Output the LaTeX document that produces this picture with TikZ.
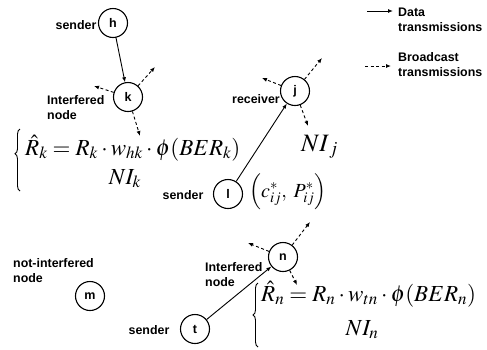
\documentclass[tikz,border=0pt]{standalone}
\usepackage{mathptmx}
\usepackage[no-math]{fontspec}
\newfontfamily\labfont{Liberation Sans}
\usetikzlibrary{arrows.meta,decorations.pathreplacing}
\tikzset{
  nd/.style={circle, draw, line width=1.1pt, minimum size=29pt, inner sep=0pt,
    font=\labfont\bfseries\fontsize{12.5}{14}\selectfont},
  lbl/.style={font=\labfont\bfseries\fontsize{12.4}{15}\selectfont, inner sep=0pt, align=left},
  data/.style={line width=0.9pt, -{Latex[length=5pt,width=4pt]}},
  bcast/.style={line width=0.9pt, dash pattern=on 3pt off 2.5pt, -{Latex[length=5pt,width=4pt]}},
  eq/.style={font=\fontsize{23}{28}\selectfont, inner sep=0pt},
  bigeq/.style={font=\fontsize{25}{30}\selectfont, inner sep=0pt},
  brc/.style={line width=0.9pt, decorate, decoration={brace, amplitude=5pt}},
}
\begin{document}
\begin{tikzpicture}[x=1pt,y=-1pt]
\useasboundingbox (0,0) rectangle (487,349);
% nodes
\node[nd] (h) at (113,23) {h};
\node[nd] (k) at (128,97) {k};
\node[nd] (j) at (295,91) {j};
\node[nd] (l) at (228,194) {l};
\node[nd] (m) at (90,296) {m};
\node[nd] (n) at (283,257) {n};
\node[nd] (t) at (195,329) {t};
% labels
\node[lbl] (sh) at (76,25) {sender};
\node[lbl, anchor=west] (ik) at (47,108) {Interfered\\node};
\node[lbl, anchor=east] (rj) at (280,99) {receiver};
\node[lbl] (sl) at (183,195) {sender};
\node[lbl, anchor=west] (ni) at (13,271) {not-interfered\\node};
\node[lbl] (st) at (149,330) {sender};
\node[lbl, anchor=west] (in) at (205,274.5) {Interfered\\node};
% data transmissions
\draw[data] (h) -- (k);
\draw[data] (l) -- (j);
\draw[data] (t) -- (n);
% broadcast endpoints
\coordinate (k1) at (94,86);
\coordinate (k2) at (155,67);
\coordinate (k3) at (140,136);
\coordinate (j1) at (262,78);
\coordinate (j2) at (322,58);
\coordinate (j3) at (308,126);
\coordinate (n1) at (248,243);
\coordinate (n2) at (310,222);
\coordinate (n3) at (297,285);
\foreach \a/\b in {k/k1,k/k2,k/k3,j/j1,j/j2,j/j3,n/n1,n/n2,n/n3}
  \draw[bcast] (\a) -- (\b);
% math
\node[eq, anchor=base west] (ek1) at (25,155) {$\hat{R}_k = R_k\cdot w_{hk}\cdot\phi(BER_k)$};
\node[eq, anchor=base] (ek2) at (125,184) {$NI_k$};
\coordinate (bk1) at (20,191);
\coordinate (bk2) at (20,129);
\draw[brc, decoration={aspect=0.6}] (bk1) -- (bk2);
\node[bigeq, anchor=base west] (nij) at (301,151) {$NI_{\,j}$};
\node[eq, anchor=west, font=\fontsize{20}{24}\selectfont] (cp) at (249,192) {$\left(c^{*}_{ij},\;P^{*}_{ij}\right)$};
\node[eq, anchor=base west] (en1) at (261,301) {$\hat{R}_n = R_n\cdot w_{tn}\cdot\phi(BER_n)$};
\node[eq, anchor=base] (en2) at (362,335) {$NI_n$};
\coordinate (bn1) at (258,347);
\coordinate (bn2) at (258,283);
\draw[brc] (bn1) -- (bn2);
% legend
\coordinate (ld1) at (367,11);
\coordinate (ld2) at (393,11);
\coordinate (lb1) at (365,66);
\coordinate (lb2) at (391,66);
\draw[data] (ld1) -- (ld2);
\draw[bcast] (lb1) -- (lb2);
\node[lbl, anchor=west] (ltd) at (398,19.5) {Data\\transmissions};
\node[lbl, anchor=west] (ltb) at (398,64.5) {Broadcast\\transmissions};
\end{tikzpicture}
\end{document}
